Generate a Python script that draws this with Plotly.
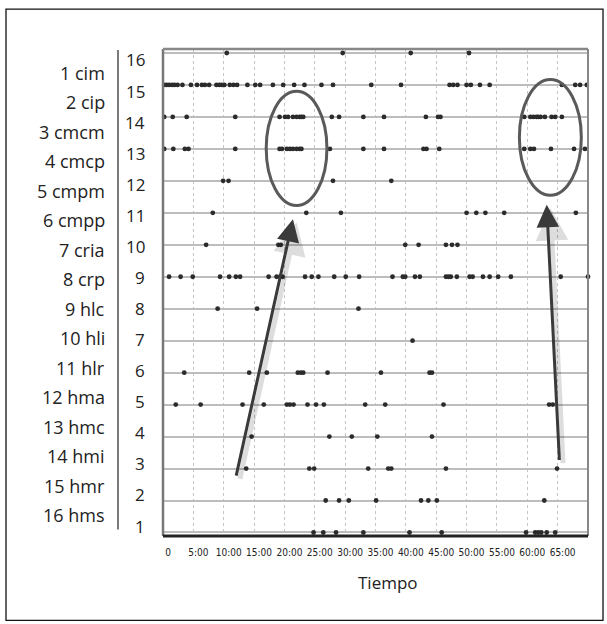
import plotly.graph_objects as go

# ---------------- data (minutes from start, one list per row) ----------------
names = ["1 cim", "2 cip", "3 cmcm", "4 cmcp", "5 cmpm", "6 cmpp", "7 cria", "8 crp",
         "9 hlc", "10 hli", "11 hlr", "12 hma", "13 hmc", "14 hmi", "15 hmr", "16 hms"]
row_numbers = list(range(16, 0, -1))
tick_vals = [0, 5, 10, 15, 20, 25, 30, 35, 40, 45, 50, 55, 60, 65]
tick_text = ["0", "5:00", "10:00", "15:00", "20:00", "25:00", "30:00", "35:00",
             "40:00", "45:00", "50:00", "55:00", "60:00", "65:00"]

r16 = [10.5, 29.6, 40.8, 50.4]
r15 = [0.2, 0.6, 1.0, 1.5, 1.9, 2.4, 3.2, 4.6, 5.6, 6.4, 6.9, 7.6, 8.8, 9.3, 9.7, 10.1,
       11.0, 11.6, 12.2, 13.9, 15.2, 16.0, 18.1, 19.8, 21.6, 23.3, 26.1, 28.0, 34.3, 39.2,
       47.2, 47.8, 48.5, 50.0, 50.7, 52.2, 53.8, 65.7, 67.9, 68.7, 69.8]
r14 = [0.2, 1.6, 3.9, 11.9, 19.2, 20.1, 20.6, 21.4, 22.0, 22.5, 22.8, 23.1, 27.8, 29.0,
       33.0, 36.4, 43.3, 45.3, 45.7, 59.5, 60.5, 61.0, 61.5, 61.8, 62.2, 62.9, 64.0, 64.6, 65.7]
r13 = [0.2, 1.7, 3.6, 4.2, 11.9, 19.2, 19.6, 20.4, 20.9, 21.4, 22.0, 22.5, 22.8, 27.5,
       33.0, 36.4, 42.9, 43.4, 45.5, 59.5, 60.5, 61.1, 63.9, 67.7, 69.5]
r12 = [9.9, 10.8, 28.0, 37.6]
r11 = [8.2, 23.6, 29.3, 50.0, 51.6, 53.1, 56.2, 68.0]
r10 = [7.1, 19.0, 19.4, 39.9, 42.1, 46.6, 47.6, 48.5]
r9 = [1.0, 2.9, 4.9, 9.4, 10.9, 12.0, 12.7, 17.4, 18.7, 19.3, 19.7, 23.4, 24.5, 25.6,
      28.2, 30.1, 32.3, 37.8, 39.5, 39.9, 41.5, 42.3, 46.6, 47.0, 47.4, 48.4, 50.5, 51.0,
      52.7, 53.8, 55.2, 57.3, 65.5, 70.0]
r8 = [9.0, 15.5, 32.2]
r7 = [41.1]
r6 = [3.5, 14.2, 17.1, 22.2, 22.7, 23.1, 27.1, 35.9, 43.9, 44.3]
r5 = [2.1, 6.2, 13.1, 16.6, 20.4, 20.9, 21.5, 23.8, 25.2, 26.5, 33.3, 36.6, 46.2, 63.6, 64.2]
r4 = [14.6, 27.4, 31.1, 35.3, 44.3]
r3 = [13.7, 24.1, 24.9, 33.8, 37.1, 37.6, 46.6, 64.9]
r2 = [26.8, 29.0, 30.6, 35.1, 42.5, 43.7, 45.1, 62.8]
r1 = [24.8, 26.4, 28.5, 33.0, 40.6, 45.9, 59.8, 61.3, 61.8, 62.3, 63.2, 64.6]

rows = [(16, r16), (15, r15), (14, r14), (13, r13), (12, r12), (11, r11), (10, r10), (9, r9),
        (8, r8), (7, r7), (6, r6), (5, r5), (4, r4), (3, r3), (2, r2), (1, r1)]

# highlight ellipses (x0, x1, y0, y1 in data units) and arrows (tail -> tip)
ellipses = [(17.0, 27.0, 11.23, 14.8), (58.7, 68.9, 11.55, 15.17)]
arrows = [((12.0, 2.73), (21.4, 10.8)), ((65.3, 3.22), (63.2, 11.25))]

# ---------------- layout geometry (pixels) ----------------
W, H = 607, 624
PL, PR, PT, PB = 163, 588, 49, 536.5


def px(x):
    return (x - PL) / (PR - PL)


def py(y):
    return (PB - y) / (PB - PT)


FONT = "Open Sans, Noto Sans, sans-serif"
NARROW = "Liberation Sans Narrow, DejaVu Sans Condensed, Arial Narrow, Liberation Sans, sans-serif"

fig = go.Figure()
for r, xs in rows:
    fig.add_trace(go.Scatter(
        x=xs, y=[r] * len(xs), mode="markers",
        marker=dict(size=4.8, color="#2b2b2b", symbol="circle", line=dict(width=0)),
        hoverinfo="skip", showlegend=False, cliponaxis=False))

shapes = []
for (x0, x1, y0, y1) in ellipses:
    shapes.append(dict(type="circle", xref="x", yref="y", x0=x0, x1=x1, y0=y0, y1=y1,
                       line=dict(color="#5a5a5a", width=3), layer="above"))

# plot frame
shapes += [
    dict(type="line", xref="paper", yref="paper", x0=0, x1=0, y0=0, y1=1,
         line=dict(color="#777777", width=2.5)),
    dict(type="line", xref="paper", yref="paper", x0=0, x1=1, y0=1, y1=1,
         line=dict(color="#888888", width=2.5)),
    dict(type="line", xref="paper", yref="paper", x0=1, x1=1, y0=0, y1=1,
         line=dict(color="#888888", width=2)),
    dict(type="line", xref="paper", yref="paper", x0=0, x1=1, y0=0, y1=0,
         line=dict(color="#222222", width=3)),
    # outer box
    dict(type="rect", xref="paper", yref="paper", x0=px(6), x1=px(603), y0=py(9), y1=py(621),
         line=dict(color="#111111", width=1.3)),
    # separator between names and numbers
    dict(type="line", xref="paper", yref="paper", x0=px(118), x1=px(118), y0=py(50), y1=py(530),
         line=dict(color="#333333", width=1.3)),
]

annotations = []
for i, nm in enumerate(names):
    annotations.append(dict(text=nm, xref="paper", yref="paper", x=px(107), y=py(73 + i * 29.5),
                            xanchor="right", yanchor="middle", showarrow=False,
                            font=dict(family=FONT, size=18, color="#222222")))
for i, n in enumerate(row_numbers):
    annotations.append(dict(text=str(n), xref="paper", yref="paper", x=px(147), y=py(60 + i * 31.1),
                            xanchor="right", yanchor="middle", showarrow=False,
                            font=dict(family=FONT, size=17, color="#222222")))
annotations.append(dict(text="Tiempo", xref="paper", yref="paper", x=px(388), y=py(583),
                        xanchor="center", yanchor="middle", showarrow=False,
                        font=dict(family=FONT, size=17, color="#222222")))

for (tx, ty), (hx, hy) in arrows:
    # soft shadow
    annotations.append(dict(text="", x=hx + 0.6, y=hy - 0.1, ax=tx + 0.6, ay=ty - 0.1,
                            xref="x", yref="y", axref="x", ayref="y", showarrow=True,
                            arrowhead=2, arrowsize=1.3, arrowwidth=5,
                            arrowcolor="rgba(0,0,0,0.13)"))
    annotations.append(dict(text="", x=hx, y=hy, ax=tx, ay=ty,
                            xref="x", yref="y", axref="x", ayref="y", showarrow=True,
                            arrowhead=2, arrowsize=1.5, arrowwidth=3,
                            arrowcolor="#3a3a3a"))

fig.update_layout(
    width=W, height=H,
    margin=dict(l=PL, r=W - PR, t=PT, b=H - PB, pad=0),
    paper_bgcolor="white", plot_bgcolor="white",
    shapes=shapes, annotations=annotations,
    xaxis=dict(range=[0, 70], tickvals=tick_vals, ticktext=tick_text,
               showgrid=True, gridcolor="#c4c4c4", gridwidth=1, griddash="dot",
               zeroline=False, showline=False, ticks="", tickangle=0,
               ticklabelshift=5, ticklabelstandoff=9,
               tickfont=dict(family=NARROW, size=10, color="#222222")),
    yaxis=dict(range=[0.89, 16.125], tickvals=row_numbers, showticklabels=False,
               showgrid=True, gridcolor="#bdbdbd", gridwidth=1.5,
               zeroline=False, showline=False, ticks=""),
)

fig.write_html("out.html")
